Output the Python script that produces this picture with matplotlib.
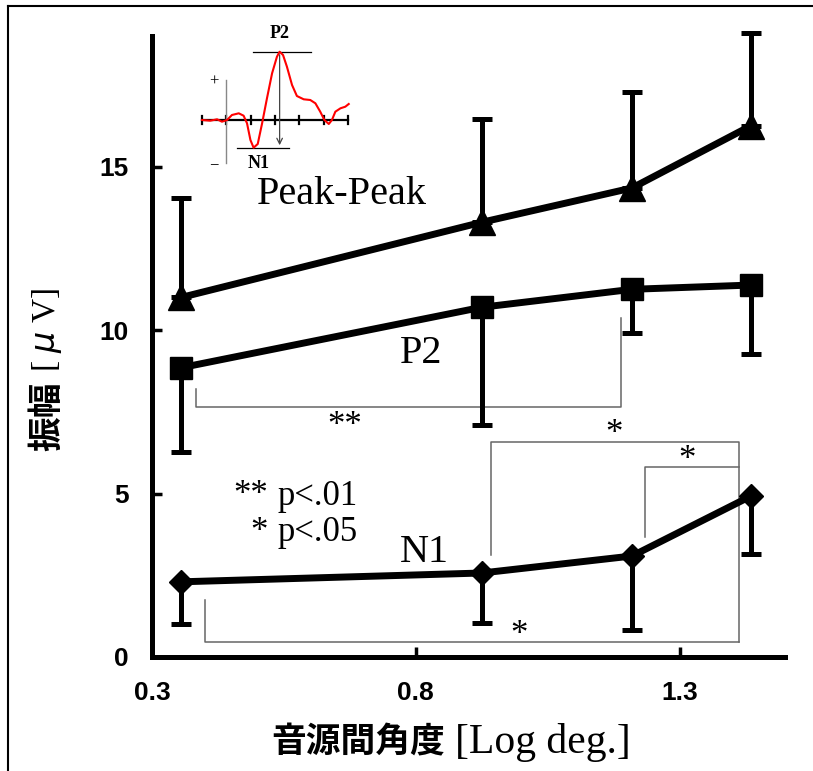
import numpy as np
import matplotlib.pyplot as plt
from matplotlib.lines import Line2D

# angle between sources [log deg]
x = [0.355, 0.925, 1.21, 1.435]

# mean amplitude and SD [uV]
pp_mean = [11.0, 13.3, 14.35, 16.25]
pp_sd = [3.05, 3.15, 2.95, 2.85]
p2_mean = [8.85, 10.7, 11.25, 11.38]
p2_sd = [2.57, 3.6, 1.35, 2.1]
n1_mean = [2.3, 2.57, 3.09, 4.92]
n1_sd = [1.3, 1.53, 2.26, 1.77]

# significance brackets: (left x, right x, level, left foot, right foot, label, label x, label y)
brackets = [
    (0.384, 1.19, 7.65, 8.2, 10.37, '**', 0.665, 7.05),
    (0.943, 1.412, 6.57, 3.12, 0.46, '*', 1.175, 6.8),
    (1.234, 1.412, 5.81, 3.67, 5.81, '*', 1.315, 6.0),
    (0.40, 1.412, 0.46, 1.74, 0.46, '*', 0.995, 0.65),
]

# inset: grand-average waveform (ms, arbitrary amplitude)
erp_t = [-100, -66, -38, -18, 3, 23, 51, 71, 85, 99, 112, 129, 147, 167, 188,
         208, 219, 233, 249, 270, 290, 318, 345, 366, 386, 403, 421, 434, 448,
         469, 489, 503]
erp_v = [0, -0.7, 0.7, -1.7, 0, 5, 6.7, 4.3, -3.3, -20, -27.7, -24, -3.3, 21.7,
         46.7, 63.3, 68.3, 65, 53.3, 35, 24, 20.7, 20, 16.7, 8.3, 0, -4, 0, 8.3,
         11.7, 13.3, 16]
erp_ticks = [-100, 0, 100, 200, 300, 400, 500]

serif = 'Liberation Serif'
sans = 'Liberation Sans'
cjk = 'Noto Sans CJK JP'

fig = plt.figure(figsize=(8.13, 7.71), dpi=100)
ax = fig.add_axes([152 / 813, 114 / 771, 633 / 813, 621 / 771])

# error bars (one-sided)
z = np.zeros(4)
ebkw = dict(fmt='none', ecolor='black', elinewidth=3.6, capsize=7, capthick=3.6, zorder=2)
for m, lo, hi in [(pp_mean, z, pp_sd), (p2_mean, p2_sd, z), (n1_mean, n1_sd, z)]:
    eb = ax.errorbar(x, m, yerr=[lo, hi], **ebkw)
    for art in eb.lines[1] + eb.lines[2]:
        art.set_clip_on(False)

ax.plot(x, pp_mean, color='black', lw=5, marker='^', ms=19, zorder=4)
ax.plot(x, p2_mean, color='black', lw=5, marker='s', ms=16, zorder=4)
ax.plot(x, n1_mean, color='black', lw=5, marker='D', ms=12.5, zorder=4)

for x0, x1, lev, f0, f1, lab, lx, ly in brackets:
    ax.plot([x0, x0, x1, x1], [f0, lev, lev, f1], color='#666666', lw=1.1, zorder=1)
    ax.text(lx, ly, lab, fontsize=25, family=serif, ha='center', va='center')

ax.text(0.66, 14.15, 'Peak-Peak', fontsize=29, family=serif, ha='center', va='center')
ax.text(0.81, 9.3, 'P2', fontsize=29, family=serif, ha='center', va='center')
ax.text(0.816, 3.2, 'N1', fontsize=29, family=serif, ha='center', va='center')
# p-value legend
ax.text(0.52, 4.95, '**', fontsize=25, family=serif, ha='right', va='center')
ax.text(0.52, 3.8, '*', fontsize=25, family=serif, ha='right', va='center')
ax.text(0.537, 4.92, 'p<.01', fontsize=25, family=serif, ha='left', va='center')
ax.text(0.537, 3.8, 'p<.05', fontsize=25, family=serif, ha='left', va='center')

ax.set_xlim(0.3, 1.5)
ax.set_ylim(0, 19)
ax.set_xticks([0.3, 0.8, 1.3])
ax.set_xticklabels(['0.3', '0.8', '1.3'])
ax.set_yticks([0, 5, 10, 15])
for s in ['top', 'right']:
    ax.spines[s].set_visible(False)
for s in ['left', 'bottom']:
    ax.spines[s].set_linewidth(3.6)
ax.tick_params(direction='in', length=7, width=2.5, labelsize=19)
ax.tick_params(axis='y', pad=17)
ax.tick_params(axis='x', pad=17)
for lab in ax.get_xticklabels() + ax.get_yticklabels():
    lab.set_family(sans)
    lab.set_fontweight('bold')

# axis labels (CJK bold + serif part)
fig.text(445 / 813, 1 - 742 / 771, '音源間角度', family=cjk, fontweight='bold',
         fontsize=25, ha='right', va='center')
fig.text(455 / 813, 1 - 742 / 771, '[Log deg.]', family=serif,
         fontsize=30, ha='left', va='center')
fig.text(47 / 813, 1 - 416 / 771, '振幅', family=cjk, fontweight='bold',
         fontsize=25, ha='center', va='center', rotation=90)
fig.text(47 / 813, 1 - 330 / 771, '[ $\\mu$ V]', family=serif,
         fontsize=24, ha='center', va='center', rotation=90)

# inset waveform
ins = fig.add_axes([195 / 813, 596 / 771, 160 / 813, 150 / 771])
ins.set_xlim(-128.8, 528.8)
ins.set_ylim(-55, 95)
ins.axis('off')
ins.plot([-100, 500], [0, 0], color='black', lw=1.6)
for t in erp_ticks:
    ins.plot([t, t], [-4, 4], color='black', lw=1.6)
ins.plot([0, 0], [-43, 40], color='#888888', lw=1)
ins.plot([111, 349], [68, 68], color='black', lw=0.9)
ins.plot([45, 259], [-28, -28], color='black', lw=0.9)
ins.annotate('', xy=(219, -28), xytext=(219, 68),
             arrowprops=dict(arrowstyle='->', color='#444444', lw=0.9))
ins.plot(erp_t, erp_v, color='red', lw=1.5)
ins.text(-53, 38, '+', fontsize=12, family=serif, ha='center', va='center')
ins.text(-53, -45, '−', fontsize=12, family=serif, ha='center', va='center')
ins.text(218, 86, 'P2', fontsize=13, family=serif, fontweight='bold', ha='center', va='center')
ins.text(132, -43, 'N1', fontsize=13, family=serif, fontweight='bold', ha='center', va='center')

# picture frame (top and left edges)
fig.add_artist(Line2D([8 / 813, 1], [1 - 6 / 771, 1 - 6 / 771], color='black', lw=1.5))
fig.add_artist(Line2D([8 / 813, 8 / 813], [0, 1 - 6 / 771], color='black', lw=1.5))

fig.savefig('out.png', dpi=100)
